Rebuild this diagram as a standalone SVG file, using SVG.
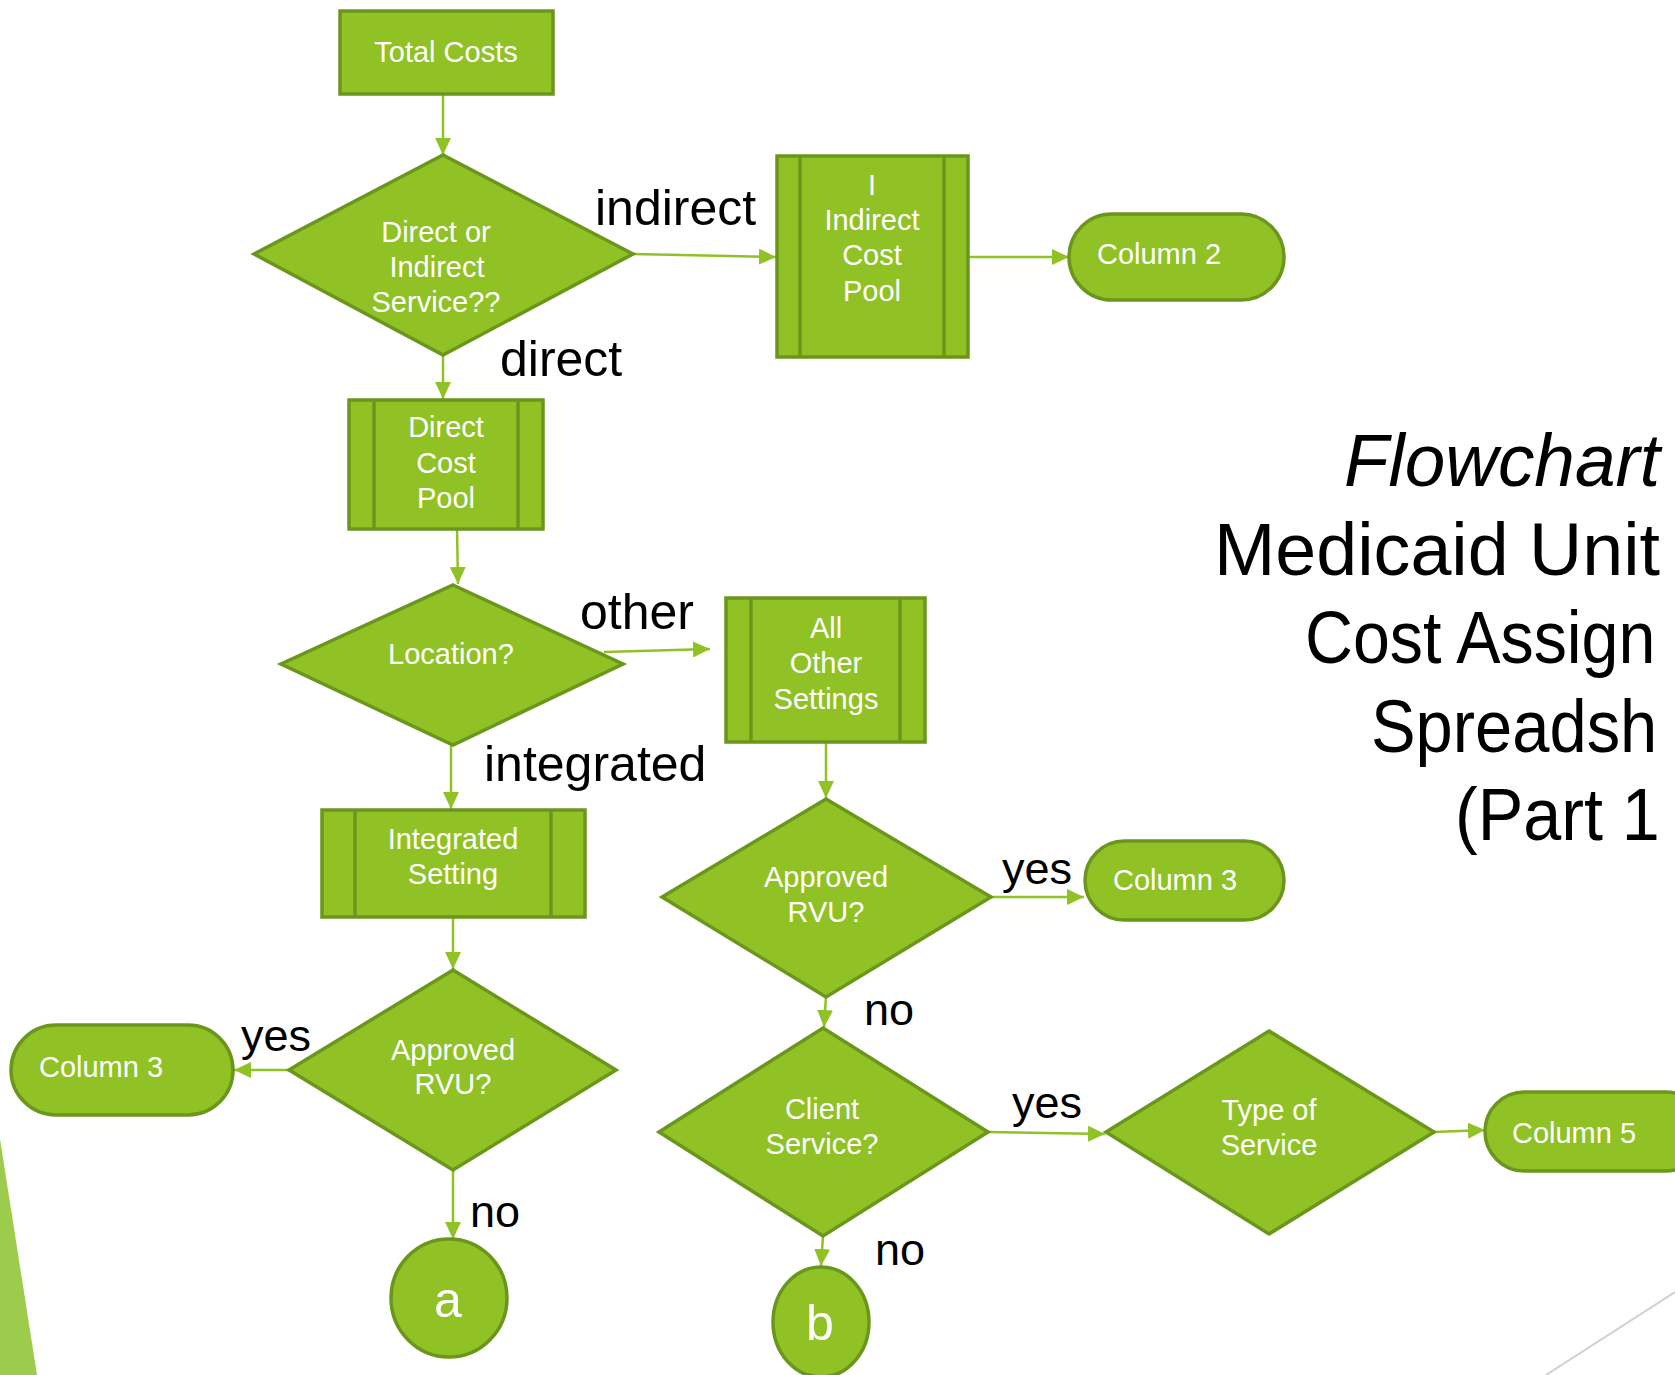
<svg xmlns="http://www.w3.org/2000/svg" width="1675" height="1375" viewBox="0 0 1675 1375">
<style>
.shape{fill:#90C226;stroke:#6B961C;stroke-width:3.5}
.inner{stroke:#6B961C;stroke-width:3.5;fill:none}
.nt{font-family:"Liberation Sans",Arial,sans-serif;font-size:29px;fill:#ffffff;text-anchor:middle}
.big{font-family:"Liberation Sans",Arial,sans-serif;font-size:50px;fill:#ffffff;text-anchor:middle}
.lbl{font-family:"Liberation Sans",Arial,sans-serif;font-size:50px;fill:#000000}
.yn{font-family:"Liberation Sans",Arial,sans-serif;font-size:45px;fill:#000000}
.title{font-family:"Liberation Sans",Arial,sans-serif;font-size:75px;fill:#000000}
.conn line{stroke:#90C226;stroke-width:2.5;fill:none;marker-end:url(#ah)}
</style>
<defs>
<marker id="ah" markerUnits="userSpaceOnUse" markerWidth="18" markerHeight="16" refX="17" refY="8" orient="auto">
<path d="M0,0 L17,8 L0,16 z" fill="#90C226"/>
</marker>
</defs>
<rect width="1675" height="1375" fill="#ffffff"/>
<polygon points="0,1139 37,1375 0,1375" fill="#9DCB4C"/>
<line x1="1546" y1="1375" x2="1675" y2="1292" stroke="#d0d0d0" stroke-width="2"/>
<g id="title">
<text class="title" x="1344" y="486" font-style="italic" textLength="316" lengthAdjust="spacingAndGlyphs">Flowchart</text>
<text class="title" x="1214" y="575" textLength="446" lengthAdjust="spacingAndGlyphs">Medicaid Unit</text>
<text class="title" transform="translate(1305,663) scale(0.885,1)" x="0" y="0">Cost Assign</text>
<text class="title" transform="translate(1371,752) scale(0.892,1)" x="0" y="0">Spreadsh</text>
<text class="title" transform="translate(1455,840) scale(0.91,1)" x="0" y="0">(Part 1</text>
</g>
<g id="connectors" class="conn">
<line x1="443" y1="94" x2="443" y2="155"/>
<line x1="633" y1="254" x2="776" y2="257"/>
<line x1="968" y1="257" x2="1069" y2="257"/>
<line x1="443" y1="355" x2="443" y2="399"/>
<line x1="457" y1="529" x2="458" y2="584"/>
<line x1="604" y1="652" x2="710" y2="649"/>
<line x1="451" y1="745" x2="451" y2="809"/>
<line x1="453" y1="917" x2="453" y2="969"/>
<line x1="289" y1="1070" x2="234" y2="1070"/>
<line x1="453" y1="1170" x2="453" y2="1239"/>
<line x1="826" y1="742" x2="826" y2="798"/>
<line x1="991" y1="897" x2="1084" y2="897"/>
<line x1="826" y1="996" x2="824" y2="1027"/>
<line x1="988" y1="1132" x2="1105" y2="1134"/>
<line x1="1434" y1="1132" x2="1485" y2="1130"/>
<line x1="823" y1="1236" x2="821" y2="1266"/>
</g>
<g id="edge-labels">
<text class="lbl" x="595" y="225">indirect</text>
<text class="lbl" x="500" y="376">direct</text>
<text class="lbl" x="580" y="629">other</text>
<text class="lbl" x="484" y="781">integrated</text>
<text class="yn" x="1002" y="884">yes</text>
<text class="yn" x="864" y="1025">no</text>
<text class="yn" x="1012" y="1118">yes</text>
<text class="yn" x="875" y="1265">no</text>
<text class="yn" x="241" y="1051">yes</text>
<text class="yn" x="470" y="1227">no</text>
</g>
<g id="total-costs">
<rect class="shape" x="340" y="11" width="213" height="83"/>
<text class="nt" x="446" y="62">Total Costs</text>
</g>
<g id="direct-or-indirect">
<polygon class="shape" points="443,155 633,254 443,355 254,254"/>
<text class="nt" x="436" y="242">Direct or</text>
<text class="nt" x="437" y="277">Indirect</text>
<text class="nt" x="436" y="312">Service??</text>
</g>
<g id="indirect-cost-pool">
<rect class="shape" x="777" y="156" width="191" height="201"/>
<line class="inner" x1="800" y1="156" x2="800" y2="357"/>
<line class="inner" x1="944" y1="156" x2="944" y2="357"/>
<text class="nt" x="872" y="195">I</text>
<text class="nt" x="872" y="230">Indirect</text>
<text class="nt" x="872" y="265">Cost</text>
<text class="nt" x="872" y="301">Pool</text>
</g>
<g id="column-2">
<rect class="shape" x="1069" y="214" width="215" height="86" rx="43" ry="43"/>
<text class="nt" x="1159" y="264">Column 2</text>
</g>
<g id="direct-cost-pool">
<rect class="shape" x="349" y="400" width="194" height="129"/>
<line class="inner" x1="374" y1="400" x2="374" y2="529"/>
<line class="inner" x1="518" y1="400" x2="518" y2="529"/>
<text class="nt" x="446" y="437">Direct</text>
<text class="nt" x="446" y="473">Cost</text>
<text class="nt" x="446" y="508">Pool</text>
</g>
<g id="location">
<polygon class="shape" points="453,585 623,664 453,745 281,664"/>
<text class="nt" x="451" y="664">Location?</text>
</g>
<g id="all-other-settings">
<rect class="shape" x="726" y="598" width="199" height="144"/>
<line class="inner" x1="751" y1="598" x2="751" y2="742"/>
<line class="inner" x1="900" y1="598" x2="900" y2="742"/>
<text class="nt" x="826" y="638">All</text>
<text class="nt" x="826" y="673">Other</text>
<text class="nt" x="826" y="709">Settings</text>
</g>
<g id="integrated-setting">
<rect class="shape" x="322" y="810" width="263" height="107"/>
<line class="inner" x1="355" y1="810" x2="355" y2="917"/>
<line class="inner" x1="551" y1="810" x2="551" y2="917"/>
<text class="nt" x="453" y="849">Integrated</text>
<text class="nt" x="453" y="884">Setting</text>
</g>
<g id="approved-rvu-right">
<polygon class="shape" points="826,799 991,897 826,997 662,897"/>
<text class="nt" x="826" y="887">Approved</text>
<text class="nt" x="826" y="922">RVU?</text>
</g>
<g id="column-3-right">
<rect class="shape" x="1085" y="841" width="199" height="79" rx="39.5" ry="39.5"/>
<text class="nt" x="1175" y="890">Column 3</text>
</g>
<g id="approved-rvu-left">
<polygon class="shape" points="453,970 616,1070 453,1170 289,1070"/>
<text class="nt" x="453" y="1060">Approved</text>
<text class="nt" x="453" y="1094">RVU?</text>
</g>
<g id="column-3-left">
<rect class="shape" x="11" y="1025" width="222" height="90" rx="45" ry="45"/>
<text class="nt" x="101" y="1077">Column 3</text>
</g>
<g id="client-service">
<polygon class="shape" points="823,1028 988,1132 823,1236 659,1132"/>
<text class="nt" x="822" y="1119">Client</text>
<text class="nt" x="822" y="1154">Service?</text>
</g>
<g id="type-of-service">
<polygon class="shape" points="1269,1031 1434,1132 1269,1234 1106,1132"/>
<text class="nt" x="1269" y="1120">Type of</text>
<text class="nt" x="1269" y="1155">Service</text>
</g>
<g id="column-5">
<rect class="shape" x="1485" y="1092" width="220" height="79" rx="39.5" ry="39.5"/>
<text class="nt" x="1574" y="1143">Column 5</text>
</g>
<g id="connector-a">
<ellipse class="shape" cx="449" cy="1298" rx="58" ry="59"/>
<text class="big" x="448" y="1317">a</text>
</g>
<g id="connector-b">
<ellipse class="shape" cx="821" cy="1322" rx="48" ry="55"/>
<text class="big" x="820" y="1340">b</text>
</g>
</svg>
